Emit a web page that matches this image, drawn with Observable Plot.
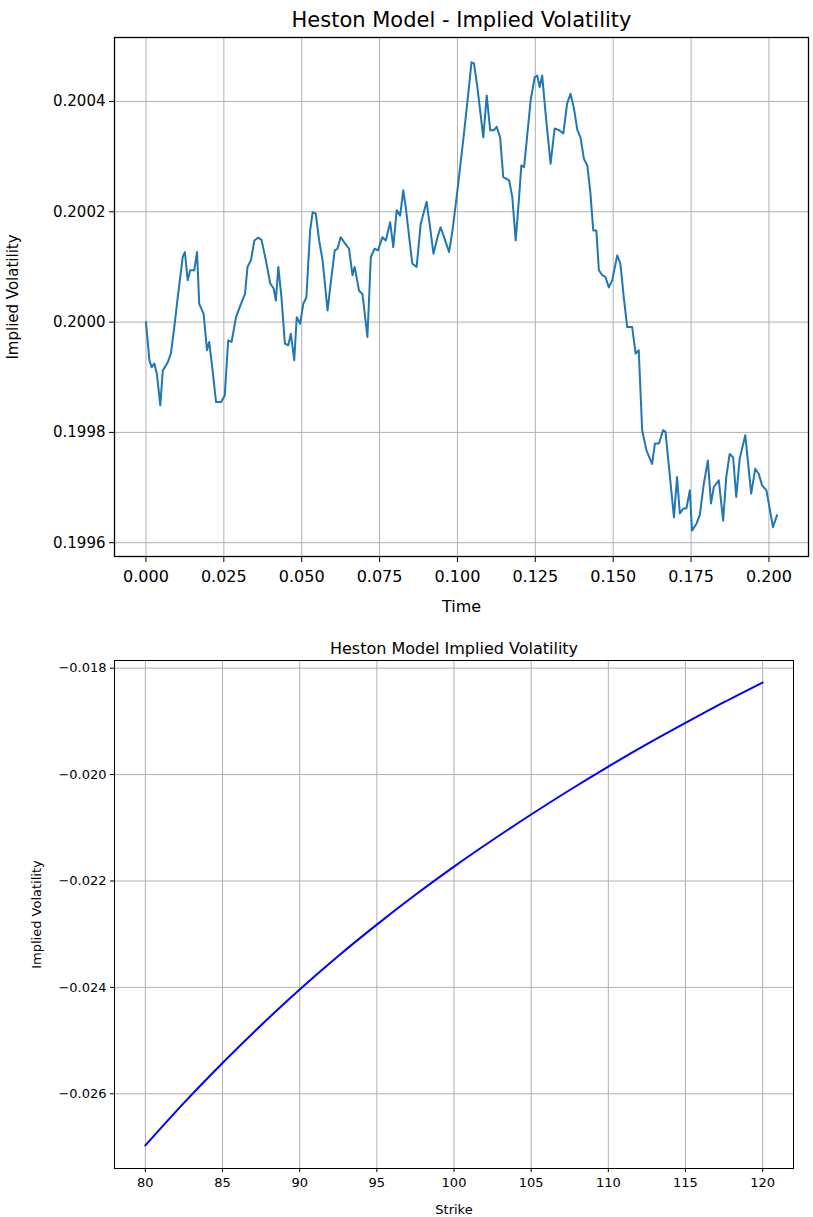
<!DOCTYPE html>
<html>
<head>
<meta charset="utf-8">
<script src="https://cdn.jsdelivr.net/npm/d3@7"></script>
<script src="https://cdn.jsdelivr.net/npm/@observablehq/plot@0.6"></script>
<style>
  html, body { margin: 0; padding: 0; background: white; }
  #chart svg { display: block; }
</style>
</head>
<body>
<div id="chart"></div>
<script>
// ---- Top chart: simulated implied volatility path ----
const topTitle = "Heston Model - Implied Volatility";
const times = [0.0000,0.0011,0.0018,0.0027,0.0035,0.0046,0.0054,0.0070,0.0080,0.0091,0.0102,0.0118,0.0125,0.0134,0.0142,0.0155,0.0164,0.0171,0.0185,0.0196,0.0203,0.0214,0.0225,0.0241,0.0253,0.0264,0.0275,0.0289,0.0305,0.0318,0.0326,0.0337,0.0348,0.0360,0.0371,0.0385,0.0399,0.0410,0.0417,0.0425,0.0435,0.0446,0.0457,0.0465,0.0476,0.0484,0.0495,0.0505,0.0515,0.0527,0.0535,0.0545,0.0556,0.0567,0.0583,0.0593,0.0606,0.0615,0.0625,0.0636,0.0652,0.0663,0.0670,0.0684,0.0695,0.0711,0.0722,0.0734,0.0745,0.0759,0.0770,0.0784,0.0794,0.0805,0.0816,0.0826,0.0834,0.0845,0.0855,0.0869,0.0882,0.0901,0.0912,0.0923,0.0936,0.0946,0.0959,0.0973,0.0984,0.1000,0.1021,0.1037,0.1045,0.1053,0.1064,0.1083,0.1094,0.1105,0.1117,0.1126,0.1137,0.1147,0.1166,0.1176,0.1187,0.1198,0.1205,0.1214,0.1235,0.1248,0.1256,0.1264,0.1272,0.1283,0.1299,0.1312,0.1326,0.1340,0.1352,0.1363,0.1374,0.1385,0.1395,0.1406,0.1417,0.1427,0.1436,0.1446,0.1454,0.1465,0.1475,0.1486,0.1497,0.1513,0.1523,0.1534,0.1545,0.1561,0.1572,0.1582,0.1593,0.1607,0.1625,0.1634,0.1647,0.1660,0.1668,0.1679,0.1695,0.1705,0.1714,0.1725,0.1735,0.1746,0.1753,0.1767,0.1778,0.1791,0.1804,0.1814,0.1823,0.1839,0.1853,0.1863,0.1874,0.1885,0.1895,0.1906,0.1924,0.1943,0.1956,0.1967,0.1978,0.1992,0.2013,0.2026];
const vols = [0.200000,0.199931,0.199918,0.199925,0.199906,0.199849,0.199912,0.199927,0.199943,0.199991,0.200045,0.200118,0.200127,0.200076,0.200094,0.200094,0.200127,0.200033,0.200015,0.199949,0.199964,0.199912,0.199855,0.199855,0.199867,0.199967,0.199964,0.200009,0.200033,0.200051,0.200100,0.200112,0.200148,0.200153,0.200149,0.200112,0.200070,0.200061,0.200039,0.200100,0.200045,0.199961,0.199958,0.199979,0.199931,0.200009,0.199997,0.200033,0.200045,0.200166,0.200199,0.200197,0.200148,0.200112,0.200021,0.200070,0.200130,0.200133,0.200154,0.200145,0.200133,0.200085,0.200100,0.200057,0.200051,0.199973,0.200118,0.200133,0.200130,0.200154,0.200148,0.200181,0.200136,0.200203,0.200193,0.200239,0.200209,0.200154,0.200106,0.200100,0.200178,0.200218,0.200172,0.200124,0.200154,0.200172,0.200151,0.200127,0.200166,0.200239,0.200342,0.200426,0.200471,0.200469,0.200426,0.200335,0.200411,0.200348,0.200348,0.200354,0.200335,0.200263,0.200257,0.200227,0.200148,0.200227,0.200284,0.200281,0.200402,0.200444,0.200447,0.200426,0.200447,0.200378,0.200287,0.200351,0.200348,0.200342,0.200396,0.200414,0.200387,0.200348,0.200335,0.200296,0.200284,0.200233,0.200166,0.200166,0.200094,0.200085,0.200082,0.200063,0.200076,0.200121,0.200106,0.200045,0.199991,0.199991,0.199943,0.199949,0.199804,0.199767,0.199743,0.199780,0.199780,0.199804,0.199801,0.199737,0.199646,0.199719,0.199653,0.199662,0.199662,0.199695,0.199622,0.199634,0.199650,0.199707,0.199749,0.199671,0.199701,0.199713,0.199640,0.199719,0.199761,0.199755,0.199683,0.199752,0.199795,0.199689,0.199734,0.199725,0.199704,0.199695,0.199628,0.199650];
const timeTicks = [0, 0.025, 0.05, 0.075, 0.1, 0.125, 0.15, 0.175, 0.2];
const volTicks = [0.1996, 0.1998, 0.2000, 0.2002, 0.2004];

// ---- Bottom chart: implied volatility vs strike ----
const bottomTitle = "Heston Model Implied Volatility";
const strikes = [80, 82.5, 85, 87.5, 90, 92.5, 95, 97.5, 100, 102.5, 105, 107.5, 110, 112.5, 115, 117.5, 120];
const strikeIV = [-0.02697, -0.02617, -0.02542, -0.02471, -0.02404, -0.02341, -0.02282, -0.02226, -0.02173, -0.02123, -0.02075, -0.02029, -0.01985, -0.01943, -0.01903, -0.01864, -0.01827];
const strikeTicks = [80, 85, 90, 95, 100, 105, 110, 115, 120];
const ivTicks = [-0.026, -0.024, -0.022, -0.020, -0.018];

const gridStyle = {stroke: "#b0b0b0", strokeOpacity: 1, strokeWidth: 1};

const topPlot = Plot.plot({
  width: 813,
  height: 620,
  marginTop: 37,
  marginBottom: 64,
  marginLeft: 114,
  marginRight: 5,
  style: {fontFamily: "DejaVu Sans", fontSize: "15px", color: "black", background: "white"},
  x: {domain: [-0.0101, 0.2127]},
  y: {domain: [0.199575, 0.200516]},
  marks: [
    Plot.gridX(timeTicks, gridStyle),
    Plot.gridY(volTicks, gridStyle),
    Plot.line(vols, {x: times, y: vols, stroke: "#1f77b4", strokeWidth: 2}),
    Plot.frame({stroke: "black", strokeWidth: 1.3}),
    Plot.axisX(timeTicks, {tickFormat: d3.format(".3f"), tickSize: 6, tickPadding: 8, fontSize: 16,
      label: "Time", labelAnchor: "center", labelArrow: "none", labelOffset: 55}),
    Plot.axisY(volTicks, {tickFormat: d3.format(".4f"), tickSize: 5, tickPadding: 4, fontSize: 15,
      label: "Implied Volatility", labelAnchor: "center", labelArrow: "none", labelOffset: 107}),
    Plot.text([topTitle], {frameAnchor: "top", dy: -25, fontSize: 21, fill: "black"})
  ]
});

const bottomPlot = Plot.plot({
  width: 813,
  height: 597,
  marginTop: 40,
  marginBottom: 49,
  marginLeft: 114,
  marginRight: 20,
  style: {fontFamily: "DejaVu Sans", fontSize: "13px", color: "black", background: "white"},
  x: {domain: [78, 122]},
  y: {domain: [-0.027404, -0.017856]},
  marks: [
    Plot.gridX(strikeTicks, gridStyle),
    Plot.gridY(ivTicks, gridStyle),
    Plot.line(strikeIV, {x: strikes, y: strikeIV, stroke: "blue", strokeWidth: 2, curve: "monotone-x"}),
    Plot.frame({stroke: "black", strokeWidth: 1}),
    Plot.axisX(strikeTicks, {tickFormat: d3.format("d"), tickSize: 4, tickPadding: 5, fontSize: 13,
      label: "Strike", labelAnchor: "center", labelArrow: "none", labelOffset: 45}),
    Plot.axisY(ivTicks, {tickFormat: d3.format(".3f"), tickSize: 4, tickPadding: 4, fontSize: 13,
      label: "Implied Volatility", labelAnchor: "center", labelArrow: "none", labelOffset: 83}),
    Plot.text([bottomTitle], {frameAnchor: "top", dy: -18, fontSize: 16, fill: "black"})
  ]
});

document.getElementById("chart").append(topPlot, bottomPlot);
</script>
</body>
</html>
